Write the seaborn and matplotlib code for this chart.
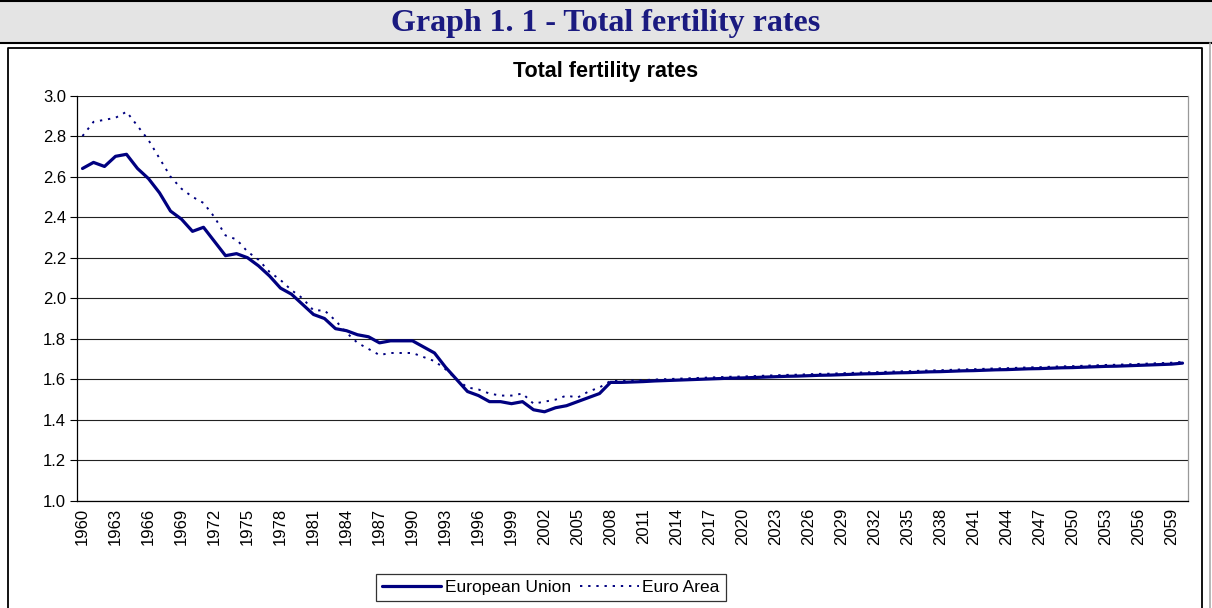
import numpy as np
import pandas as pd
import matplotlib
matplotlib.use('Agg')
import matplotlib.pyplot as plt
from matplotlib.lines import Line2D
from matplotlib.patches import Rectangle
import seaborn as sns

# Datos (1960-2060)
years = list(range(1960, 2061))

eu_hist = [2.64, 2.67, 2.65, 2.70, 2.71, 2.64, 2.59, 2.52, 2.43, 2.39,
           2.33, 2.35, 2.28, 2.21, 2.22, 2.20, 2.16, 2.11, 2.05, 2.02,
           1.97, 1.92, 1.90, 1.85, 1.84, 1.82, 1.81, 1.78, 1.79, 1.79,
           1.79, 1.76, 1.73, 1.66, 1.60, 1.54, 1.52, 1.49, 1.49, 1.48,
           1.49, 1.45, 1.44, 1.46, 1.47, 1.49, 1.51, 1.53]
eu_proj = [1.585, 1.585, 1.587, 1.589, 1.592, 1.594, 1.596, 1.598, 1.600, 1.602,
           1.604, 1.606, 1.607, 1.609, 1.611, 1.613, 1.615, 1.616, 1.618, 1.620,
           1.621, 1.623, 1.625, 1.627, 1.628, 1.630, 1.632, 1.633, 1.635, 1.637,
           1.638, 1.640, 1.642, 1.643, 1.645, 1.647, 1.648, 1.650, 1.652, 1.653,
           1.655, 1.657, 1.658, 1.660, 1.662, 1.664, 1.665, 1.667, 1.669, 1.671,
           1.673, 1.675, 1.680]

ea_hist = [2.80, 2.87, 2.88, 2.89, 2.92, 2.85, 2.78, 2.69, 2.60, 2.54,
           2.50, 2.47, 2.40, 2.31, 2.29, 2.23, 2.19, 2.13, 2.09, 2.04,
           2.00, 1.94, 1.94, 1.89, 1.83, 1.78, 1.75, 1.72, 1.73, 1.73,
           1.73, 1.71, 1.69, 1.65, 1.60, 1.56, 1.55, 1.53, 1.52, 1.52,
           1.53, 1.48, 1.49, 1.50, 1.52, 1.51, 1.54, 1.56]
ea_proj = [1.592, 1.592, 1.594, 1.596, 1.599, 1.601, 1.603, 1.605, 1.607, 1.609,
           1.611, 1.613, 1.614, 1.616, 1.618, 1.620, 1.622, 1.623, 1.625, 1.627,
           1.628, 1.630, 1.632, 1.634, 1.635, 1.637, 1.639, 1.640, 1.642, 1.644,
           1.645, 1.647, 1.649, 1.650, 1.652, 1.654, 1.655, 1.657, 1.659, 1.660,
           1.662, 1.664, 1.665, 1.667, 1.669, 1.671, 1.672, 1.674, 1.676, 1.678,
           1.680, 1.682, 1.686]

eu = eu_hist + eu_proj
ea = ea_hist + ea_proj

y_ticks = [1.0, 1.2, 1.4, 1.6, 1.8, 2.0, 2.2, 2.4, 2.6, 2.8, 3.0]

df = pd.DataFrame({'pos': np.arange(len(years)), 'year': years,
                   'European Union': eu, 'Euro Area': ea})

sns.set_style('white')
plt.rcParams['font.family'] = ['Liberation Sans', 'DejaVu Sans']
plt.rcParams['text.color'] = 'black'
plt.rcParams['xtick.color'] = 'black'
plt.rcParams['ytick.color'] = 'black'

navy = '#000080'
W, H = 1212, 608
fig = plt.figure(figsize=(W / 100, H / 100), dpi=100)

# Cabecera gris con titulo
fig.add_artist(Rectangle((0, 1 - 43 / H), 1, 43 / H, transform=fig.transFigure,
                         facecolor='#e4e4e4', edgecolor='none', zorder=0))
fig.add_artist(Line2D([0, 1], [1 - 1 / H, 1 - 1 / H], transform=fig.transFigure,
                      color='black', lw=1.5))
fig.add_artist(Line2D([0, 1], [1 - 43 / H, 1 - 43 / H], transform=fig.transFigure,
                      color='black', lw=1.5))
fig.add_artist(Line2D([1210 / W, 1210 / W], [0, 1 - 43 / H], transform=fig.transFigure,
                      color='#aaaaaa', lw=1.2))
fig.text(0.5, 1 - 23 / H, 'Graph 1. 1 - Total fertility rates', ha='center', va='center',
         fontsize=23, fontweight='bold', color='#1a1a80', family=['Liberation Serif'])

# Marco del grafico
x0, x1, yt = 8 / W, 1202 / W, 1 - 48 / H
fig.add_artist(Line2D([x0, x0, x1, x1], [0, yt, yt, 0], transform=fig.transFigure,
                      color='black', lw=1.3))

ax = fig.add_axes([77 / W, 1 - 501 / H, (1188 - 77) / W, (501 - 95.5) / H])

sns.lineplot(data=df, x='pos', y='European Union', ax=ax, color=navy, lw=2.3,
             label='European Union')
sns.lineplot(data=df, x='pos', y='Euro Area', ax=ax, color=navy, lw=1.4,
             linestyle=(0, (1.2, 3.0)), label='Euro Area')

ax.set_xlim(-0.5, len(years) - 0.5)
ax.set_ylim(1.0, 3.0)
ax.set_yticks(y_ticks)
ax.set_yticklabels([f'{v:.1f}' for v in y_ticks], fontsize=12)
ax.yaxis.grid(True, color='#222222', lw=0.8)
ax.set_axisbelow(True)

major = np.arange(0, len(years) - 1, 3)
ax.set_xticks(major)
ax.set_xticklabels([str(years[i]) for i in major], rotation=90, fontsize=12)
ax.set_xticks(np.arange(-0.5, len(years), 1), minor=True)
ax.tick_params(axis='x', which='major', length=0, pad=5)
ax.tick_params(axis='x', which='minor', length=5, width=0.8, color='black', direction='out')
ax.tick_params(axis='y', length=5, width=0.8, color='black', direction='out', pad=3, left=True)
ax.set_xlabel('')
ax.set_ylabel('')

ax.spines['top'].set_visible(False)
ax.spines['right'].set_color('#999999')
ax.spines['left'].set_color('black')
ax.spines['bottom'].set_color('black')
for s in ['left', 'bottom', 'right']:
    ax.spines[s].set_linewidth(0.9)

fig.text(0.5, 1 - 72 / H, 'Total fertility rates', ha='center', va='center',
         fontsize=15.5, fontweight='bold', color='black')

ax.get_legend().remove()
handles, labels = ax.get_legend_handles_labels()
leg = fig.legend(handles, labels, loc='center', bbox_to_anchor=(551 / W, 1 - 587.5 / H),
                 ncol=2, fontsize=12.5, frameon=True, fancybox=False, edgecolor='black',
                 handlelength=3.4, handletextpad=0.2, columnspacing=0.5,
                 borderpad=0.35, borderaxespad=0)
leg.get_frame().set_linewidth(0.9)

fig.savefig('out.png', dpi=100)
